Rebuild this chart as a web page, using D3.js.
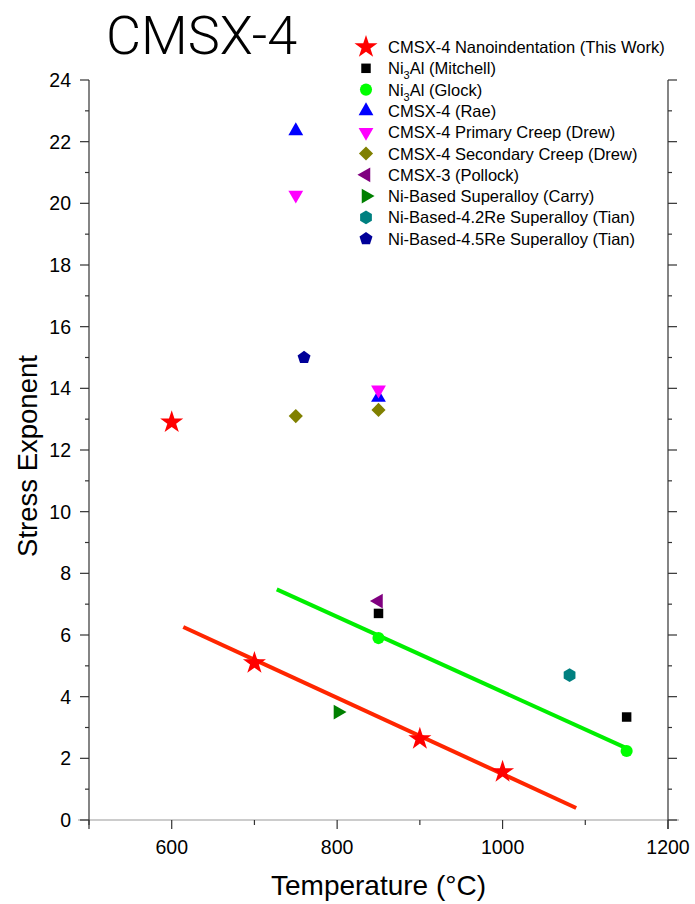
<!DOCTYPE html>
<html>
<head>
<meta charset="utf-8">
<script src="https://cdn.jsdelivr.net/npm/d3@7"></script>
<style>
  body { margin: 0; background: #fff; }
  svg { display: block; font-family: "Liberation Sans", Arial, sans-serif; }
</style>
</head>
<body>
<svg id="chart"></svg>
<script>
// data
const nanoT = [600, 700, 900, 1000];
const nanoN = [12.9, 5.09, 2.63, 1.56];
const mitchellT = [850, 1150];
const mitchellN = [6.7, 3.34];
const glockT = [850, 1150];
const glockN = [5.9, 2.24];
const raeT = [750, 850];
const raeN = [22.35, 13.7];
const primaryT = [750, 850];
const primaryN = [20.27, 13.95];
const secondaryT = [750, 850];
const secondaryN = [13.1, 13.3];
const pollockT = [850];
const pollockN = [7.1];
const carryT = [801];
const carryN = [3.5];
const tian42T = [1081];
const tian42N = [4.7];
const tian45T = [760];
const tian45N = [15.0];

// linear fits
const nanoFitT = [614, 1089];
const nanoFitN = [6.26, 0.39];
const glockFitT = [727, 1149];
const glockFitN = [7.48, 2.34];

const xTicks = [600, 800, 1000, 1200];
const yTicks = [0, 2, 4, 6, 8, 10, 12, 14, 16, 18, 20, 22, 24];

const width = 695;
const height = 904;

let svg = d3.select("#chart").attr("width", width).attr("height", height);

let x = d3.scaleLinear().domain([500, 1200]).range([89, 668]);
let y = d3.scaleLinear().domain([0, 24]).range([820, 80]);

// custom polygon symbols
let polygon = (n, rot) => ({
  draw(ctx, size) {
    let r = Math.sqrt(size / (n / 2 * Math.sin(2 * Math.PI / n)));
    for (let i = 0; i < n; i++) {
      let a = rot + i * 2 * Math.PI / n;
      let px = r * Math.sin(a), py = -r * Math.cos(a);
      if (i === 0) ctx.moveTo(px, py); else ctx.lineTo(px, py);
    }
    ctx.closePath();
  }
});

let series = [
  { name: "CMSX-4 Nanoindentation (This Work)", t: nanoT, n: nanoN, color: "#ff0000", type: d3.symbolStar, size: 165, rot: 0 },
  { name: "Ni|3|Al (Mitchell)", t: mitchellT, n: mitchellN, color: "#000000", type: d3.symbolSquare, size: 90, rot: 0 },
  { name: "Ni|3|Al (Glock)", t: glockT, n: glockN, color: "#00ff00", type: d3.symbolCircle, size: 115, rot: 0 },
  { name: "CMSX-4 (Rae)", t: raeT, n: raeN, color: "#0000ff", type: d3.symbolTriangle, size: 95, rot: 0 },
  { name: "CMSX-4 Primary Creep (Drew)", t: primaryT, n: primaryN, color: "#ff00ff", type: d3.symbolTriangle, size: 95, rot: 180 },
  { name: "CMSX-4 Secondary Creep (Drew)", t: secondaryT, n: secondaryN, color: "#808000", type: d3.symbolSquare, size: 100, rot: 45 },
  { name: "CMSX-3 (Pollock)", t: pollockT, n: pollockN, color: "#800080", type: d3.symbolTriangle, size: 95, rot: -90 },
  { name: "Ni-Based Superalloy (Carry)", t: carryT, n: carryN, color: "#008000", type: d3.symbolTriangle, size: 95, rot: 90 },
  { name: "Ni-Based-4.2Re Superalloy (Tian)", t: tian42T, n: tian42N, color: "#008080", type: polygon(6, 0), size: 120, rot: 0 },
  { name: "Ni-Based-4.5Re Superalloy (Tian)", t: tian45T, n: tian45N, color: "#000099", type: polygon(5, 0), size: 110, rot: 0 }
];

// axes
let axisColor = "#333";
let axes = svg.append("g").attr("stroke", axisColor).attr("stroke-width", 1.2);

axes.append("line").attr("x1", x(500) - 11).attr("x2", x(1200) + 11)
  .attr("y1", y(0)).attr("y2", y(0)).attr("stroke", "#999");
axes.append("line").attr("x1", x(500)).attr("x2", x(500))
  .attr("y1", y(24)).attr("y2", y(0) + 9);
axes.append("line").attr("x1", x(1200)).attr("x2", x(1200))
  .attr("y1", y(24)).attr("y2", y(0) + 9);

d3.range(500, 1201, 100).forEach((v) => {
  let major = xTicks.includes(v);
  axes.append("line").attr("x1", x(v)).attr("x2", x(v))
    .attr("y1", y(0)).attr("y2", y(0) + (major ? 9 : 5));
});

d3.range(0, 25, 1).forEach((v) => {
  let len = yTicks.includes(v) ? 9 : 4;
  axes.append("line").attr("x1", x(500) - len).attr("x2", x(500))
    .attr("y1", y(v)).attr("y2", y(v));
  axes.append("line").attr("x1", x(1200)).attr("x2", x(1200) + len)
    .attr("y1", y(v)).attr("y2", y(v));
});

svg.append("g").selectAll("text").data(xTicks).enter().append("text")
  .attr("x", (d) => x(d)).attr("y", y(0) + 34)
  .attr("text-anchor", "middle").attr("font-size", 19.5)
  .text((d) => d);

svg.append("g").selectAll("text").data(yTicks).enter().append("text")
  .attr("x", x(500) - 18).attr("y", (d) => y(d) + 7)
  .attr("text-anchor", "end").attr("font-size", 19.5)
  .text((d) => d);

svg.append("text").attr("x", (x(500) + x(1200)) / 2).attr("y", 895)
  .attr("text-anchor", "middle").attr("font-size", 28)
  .text("Temperature (°C)");

svg.append("text").attr("transform", "translate(37," + (y(12) + 6) + ") rotate(-90)")
  .attr("text-anchor", "middle").attr("font-size", 27.5)
  .text("Stress Exponent");

svg.append("text").attr("x", 106).attr("y", 54)
  .attr("font-size", 54).attr("font-weight", 300)
  .style("font-family", "Roboto, Lato, 'Liberation Sans', sans-serif")
  .text("CMSX-4");

// fit lines
let line = d3.line().x((d) => x(d[0])).y((d) => y(d[1]));
svg.append("path").datum(d3.zip(nanoFitT, nanoFitN)).attr("d", line)
  .attr("stroke", "#ff2600").attr("stroke-width", 4).attr("fill", "none");
svg.append("path").datum(d3.zip(glockFitT, glockFitN)).attr("d", line)
  .attr("stroke", "#00ee00").attr("stroke-width", 4).attr("fill", "none");

// markers
let symbolPath = (s) => d3.symbol().type(s.type).size(s.size)();

series.forEach((s) => {
  svg.append("g").selectAll("path").data(d3.zip(s.t, s.n)).enter().append("path")
    .attr("d", symbolPath(s))
    .attr("fill", s.color)
    .attr("transform", (d) => "translate(" + x(d[0]) + "," + y(d[1]) + ") rotate(" + s.rot + ")");
});

// legend
let legend = svg.append("g");
series.forEach((s, i) => {
  let ly = 47 + i * 21.3;
  legend.append("path").attr("d", symbolPath(s)).attr("fill", s.color)
    .attr("transform", "translate(366," + ly + ") rotate(" + s.rot + ")");
  let txt = legend.append("text").attr("x", 388).attr("y", ly + 6).attr("font-size", 16.5);
  let parts = s.name.split("|");
  if (parts.length === 1) {
    txt.text(s.name);
  } else {
    txt.append("tspan").text(parts[0]);
    txt.append("tspan").attr("dy", 5).attr("font-size", 11).text(parts[1]);
    txt.append("tspan").attr("dy", -5).text(parts[2]);
  }
});
</script>
</body>
</html>
